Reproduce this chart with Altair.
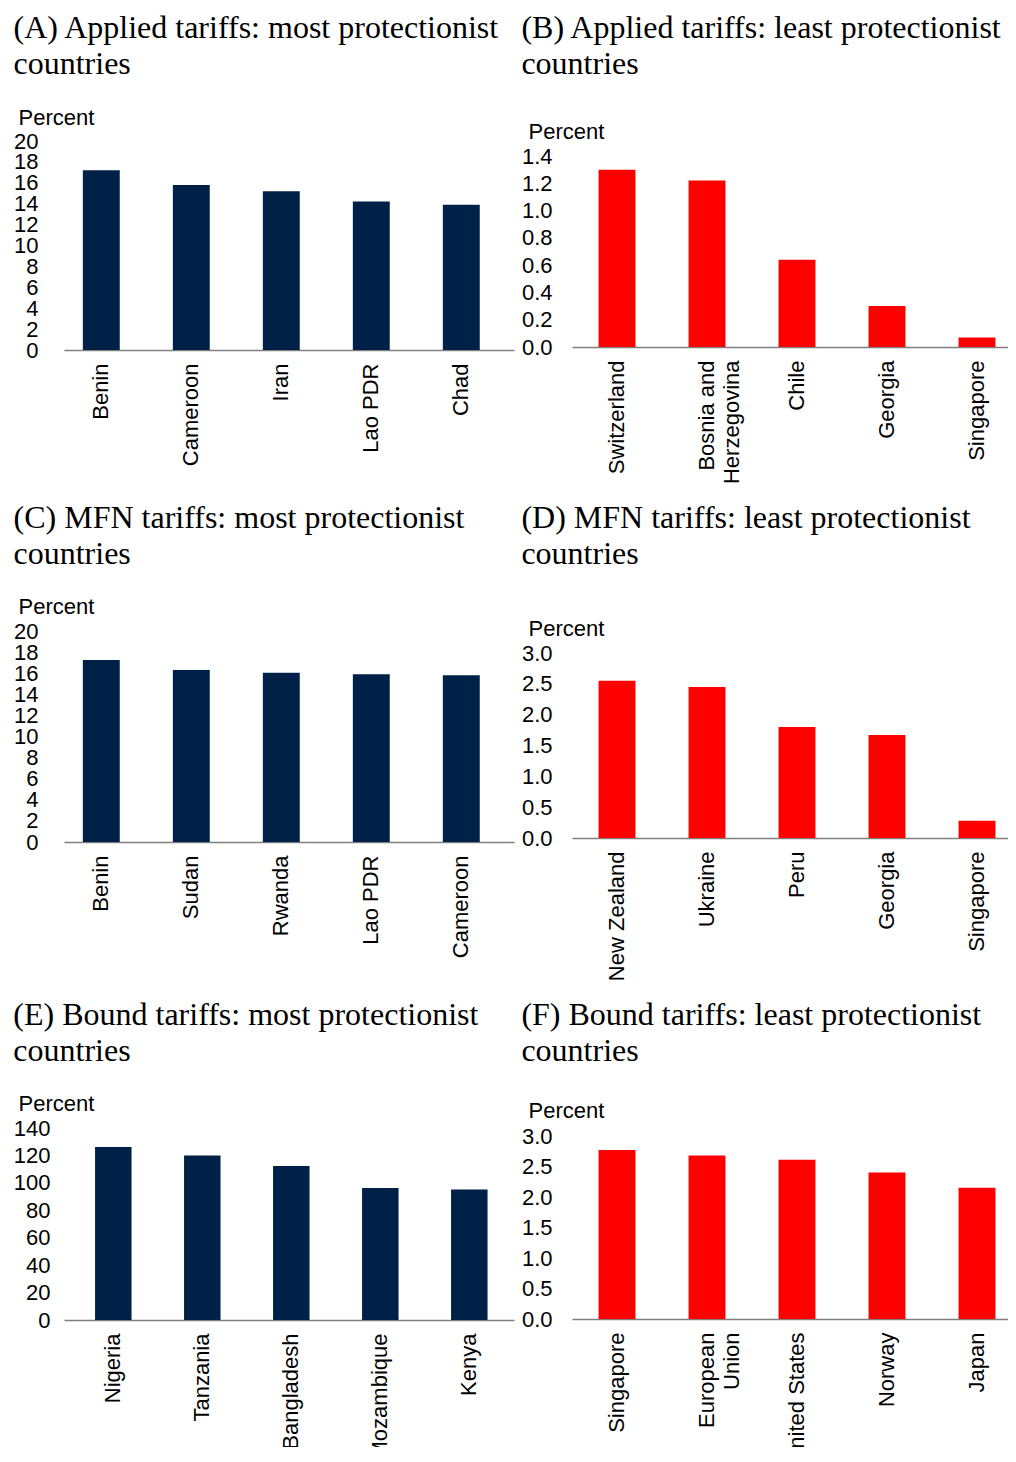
import altair as alt
import pandas as pd

# ---- data ----
a_countries = ["Benin", "Cameroon", "Iran", "Lao PDR", "Chad"]
a_values = [17.2, 15.8, 15.2, 14.2, 13.9]

b_countries = ["Switzerland", "Bosnia and Herzegovina", "Chile", "Georgia", "Singapore"]
b_values = [1.30, 1.22, 0.64, 0.30, 0.07]

c_countries = ["Benin", "Sudan", "Rwanda", "Lao PDR", "Cameroon"]
c_values = [17.25, 16.3, 16.05, 15.9, 15.8]

d_countries = ["New Zealand", "Ukraine", "Peru", "Georgia", "Singapore"]
d_values = [2.55, 2.45, 1.80, 1.67, 0.28]

e_countries = ["Nigeria", "Tanzania", "Bangladesh", "Mozambique", "Kenya"]
e_values = [126.2, 119.9, 112.3, 96.3, 95.1]

f_countries = ["Singapore", "European Union", "United States", "Norway", "Japan"]
f_values = [2.77, 2.68, 2.61, 2.40, 2.15]

ticks_20 = [0, 2, 4, 6, 8, 10, 12, 14, 16, 18, 20]
ticks_14 = [0.0, 0.2, 0.4, 0.6, 0.8, 1.0, 1.2, 1.4]
ticks_3 = [0.0, 0.5, 1.0, 1.5, 2.0, 2.5, 3.0]
ticks_140 = [0, 20, 40, 60, 80, 100, 120, 140]

titles = {
    "A": ["(A) Applied tariffs: most protectionist", "countries"],
    "B": ["(B) Applied tariffs: least protectionist", "countries"],
    "C": ["(C) MFN tariffs: most protectionist", "countries"],
    "D": ["(D) MFN tariffs: least protectionist", "countries"],
    "E": ["(E) Bound tariffs: most protectionist", "countries"],
    "F": ["(F) Bound tariffs: least protectionist", "countries"],
}

NAVY = "#002147"
RED = "#ff0000"
SANS = "Liberation Sans"

label_expr = ("datum.label == 'Bosnia and Herzegovina' ? ['Bosnia and', 'Herzegovina'] : "
              "datum.label == 'European Union' ? ['European', 'Union'] : datum.label")


def panel(key, cats, vals, color, ymax, ticks, fmt, w, h, title_off, pct_x, pct_y,
          ylab_pad, pad_outer, band_align):
    df = pd.DataFrame({"country": cats, "value": vals})
    return alt.Chart(df).mark_bar(color=color).encode(
        x=alt.X(
            "country:N", sort=cats,
            scale=alt.Scale(paddingInner=0.59, paddingOuter=pad_outer, align=band_align),
            axis=alt.Axis(
                title=None, labelAngle=-90, labelAlign="right", labelBaseline="middle",
                labelPadding=13, ticks=False, tickSize=0, domainColor="#7f7f7f",
                domainWidth=1.3, labelFontSize=22, labelFont=SANS,
                labelColor="black", labelExpr=label_expr, labelLineHeight=25,
                labelLimit=400,
            ),
        ),
        y=alt.Y(
            "value:Q",
            scale=alt.Scale(domain=[0, ymax], nice=False, zero=True),
            axis=alt.Axis(
                title="Percent", values=ticks, format=fmt, grid=False, domain=False,
                ticks=False, tickSize=0, labelPadding=ylab_pad, labelOverlap=False,
                labelFontSize=22, labelFont=SANS, labelColor="black",
                labelBound=False, labelFlush=False,
                titleAngle=0, titleAlign="left", titleBaseline="middle",
                titleX=pct_x, titleY=pct_y, titleFontSize=22,
                titleFont=SANS, titleFontWeight="normal", titleColor="black",
            ),
        ),
    ).properties(
        width=w, height=h,
        title=alt.TitleParams(
            text=titles[key], anchor="start", fontSize=32, font="Liberation Serif",
            fontWeight="normal", lineHeight=36, offset=title_off, color="black",
        ),
    )


def spacer(h):
    # invisible layout spacer between panels
    return alt.Chart(pd.DataFrame({"s": [0]})).mark_rect(opacity=0).encode(
        x=alt.value(0), x2=alt.value(1), y=alt.value(0), y2=alt.value(h)
    ).properties(width=1, height=h)


pA = panel("A", a_countries, a_values, NAVY, 20, ticks_20, "d", 450, 209, 25, -46, -24, 26, 0.295, 0.355)
pC = panel("C", c_countries, c_values, NAVY, 20, ticks_20, "d", 450, 211, 24, -46, -25, 26, 0.295, 0.355)
pE = panel("E", e_countries, e_values, NAVY, 140, ticks_140, "d", 450, 192, 24, -46, -25, 14, 0.323, 0.54)
pB = panel("B", b_countries, b_values, RED, 1.4, ticks_14, ".1f", 450, 191, 39, -44, -25, 20, 0.295, 0.5)
pD = panel("D", d_countries, d_values, RED, 3.0, ticks_3, ".1f", 450, 185, 46, -44, -25, 20, 0.295, 0.5)
pF = panel("F", f_countries, f_values, RED, 3.0, ticks_3, ".1f", 450, 183, 31, -44, -26, 20, 0.295, 0.5)

left_col = alt.concat(spacer(1), pA, spacer(36), pC, spacer(41), pE,
                      columns=1, align="none", spacing=0)
right_col = alt.concat(spacer(1), pB, spacer(18), pD, spacer(18), pF,
                       columns=1, align="none", spacing=0)

chart = alt.hconcat(left_col, right_col, spacing=7).configure_view(
    stroke=None
).properties(
    padding={"left": 5, "top": 3, "right": -14, "bottom": -18}
)

chart.save("out.html", embed_options={"renderer": "svg", "actions": False})
